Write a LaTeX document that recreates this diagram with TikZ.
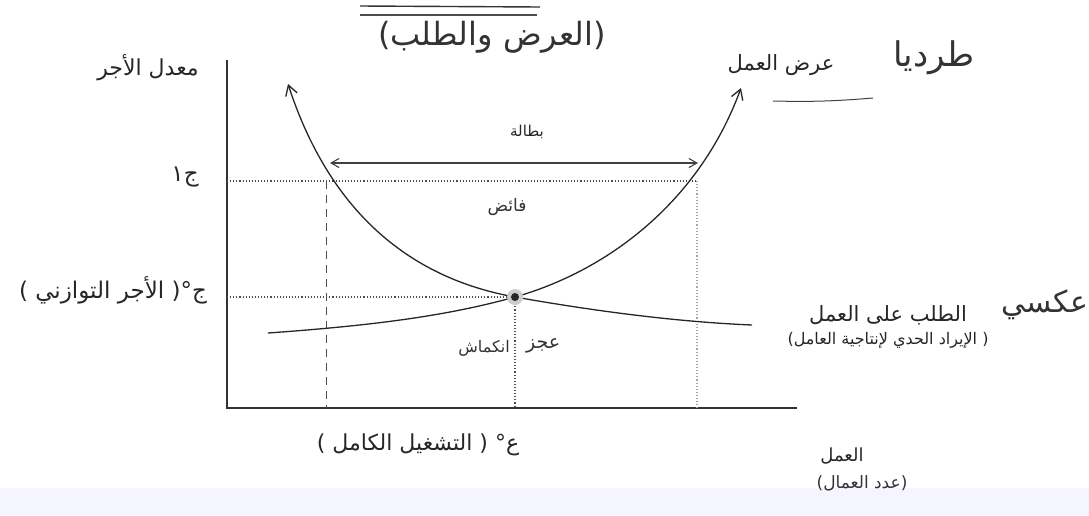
\documentclass[tikz,border=0pt]{standalone}
\usepackage{fontspec}
\newfontfamily\arabicfont[Script=Arabic]{DejaVu Sans}
\TeXXeTstate=1
\usetikzlibrary{arrows.meta}
\newcommand{\artext}[1]{{\arabicfont\beginR #1\endR}}
\newcommand{\fsz}[1]{\fontsize{#1}{#1}\selectfont}
\tikzset{
  curve/.style={line width=1.3pt, draw=black!85},
  axis/.style={line width=1.5pt, draw=black!80},
  guide/.style={line width=1.1pt, draw=black!70, dotted},
  dashguide/.style={line width=0.7pt, draw=black!70, dash pattern=on 8pt off 6pt},
  lbl/.style={text=black!85, inner sep=1pt},
  hand/.style={text=black!80, inner sep=1pt},
}
\begin{document}
\begin{tikzpicture}[x=1pt,y=-1pt]
\useasboundingbox (0,0) rectangle (1089,515);
\fill[blue!4] (0,488) rectangle (1089,515);
% axes
\coordinate (ytop) at (227,60);
\coordinate (origin) at (227,408);
\coordinate (xend) at (797,408);
\draw[axis] (ytop) -- (origin) -- (xend);
% key points
\coordinate (eq) at (515,297);
\coordinate (dtop) at (288,84);
\coordinate (dend) at (752,325);
\coordinate (sstart) at (268,333);
\coordinate (stop) at (741,88);
\coordinate (wone) at (227,181);
\coordinate (dcross) at (326,181);
\coordinate (scross) at (697,181);
\coordinate (weq) at (227,297);
\coordinate (dcrossb) at (326,408);
\coordinate (scrossb) at (697,408);
\coordinate (eqb) at (515,408);
% guides
\draw[guide] (wone) -- (scross);
\draw[guide] (weq) -- (eq);
\draw[guide] (eq) -- (eqb);
\draw[guide, draw=black!35] (scross) -- (scrossb);
\draw[dashguide] (dcross) -- (dcrossb);
% unemployment arrow
\coordinate (ul) at (330,163);
\coordinate (ur) at (698,163);
\draw[line width=1.1pt, draw=black!75, {Straight Barb[length=8pt,width=9pt]}-{Straight Barb[length=8pt,width=9pt]}] (ul) -- (ur);
% demand curve
\draw[curve, {Straight Barb[length=10pt,width=12pt,line width=1.3pt]}-] (dtop) .. controls (333,222) and (420,280) .. (eq) .. controls (600,312) and (680,322) .. (dend);
% supply curve
\draw[curve, -{Straight Barb[length=10pt,width=12pt,line width=1.3pt]}] (sstart) .. controls (380,325) and (450,315) .. (eq) .. controls (610,270) and (700,200) .. (stop);
% equilibrium point
\fill[black!20] (eq) circle (8pt);
\node[circle, fill=black!85, inner sep=0pt, minimum size=8pt] (eqdot) at (eq) {};
% underline next to supply label
\coordinate (ula) at (773,101);
\coordinate (ulb) at (873,98);
\draw[line width=1pt, draw=black!75] (ula) to[bend right=3] (ulb);
% title overlines
\coordinate (ta) at (360,6); \coordinate (tb) at (540,7);
\coordinate (tc) at (360,15); \coordinate (td) at (537,15);
\draw[line width=1.4pt, draw=black!80] (ta) -- (tb);
\draw[line width=1.1pt, draw=black!70] (tc) -- (td);
% labels
\node[hand, font=\fsz{32}] (title) at (492,37) {\artext{(العرض والطلب)}};
\node[lbl, font=\fsz{22}] (ylabel) at (148,68) {\artext{معدل الأجر}};
\node[lbl, font=\fsz{21}] (slabel) at (781,65) {\artext{عرض العمل}};
\node[hand, font=\fsz{34}] (tardi) at (934,58) {\artext{طرديا}};
\node[lbl, font=\fsz{23}] (wonelbl) at (185,177) {\artext{ج١}};
\node[lbl, font=\fsz{23}] (weqlbl) at (113,290) {\artext{ج°( الأجر التوازني )}};
\node[lbl, font=\fsz{15}] (unemp) at (527,132) {\artext{بطالة}};
\node[hand, font=\fsz{17}] (surplus) at (507,207) {\artext{فائض}};
\node[hand, font=\fsz{19}, anchor=west] (deficit) at (525,346) {\artext{عجز}};
\node[hand, font=\fsz{16}, anchor=east] (contraction) at (511,348) {\artext{انكماش}};
\node[lbl, font=\fsz{21}] (dlabel) at (888,315) {\artext{الطلب على العمل}};
\node[hand, font=\fsz{30}] (aksi) at (1045,305) {\artext{عكسي}};
\node[lbl, font=\fsz{16}] (dlabel2) at (888,340) {\artext{( الإيراد الحدي لإنتاجية العامل)}};
\node[lbl, font=\fsz{22}] (xeqlbl) at (418,445) {\artext{ع° ( التشغيل الكامل )}};
\node[lbl, font=\fsz{18}] (xlabel) at (842,456) {\artext{العمل}};
\node[hand, font=\fsz{17}] (xlabel2) at (862,483) {\artext{(عدد العمال)}};
\end{tikzpicture}
\end{document}
